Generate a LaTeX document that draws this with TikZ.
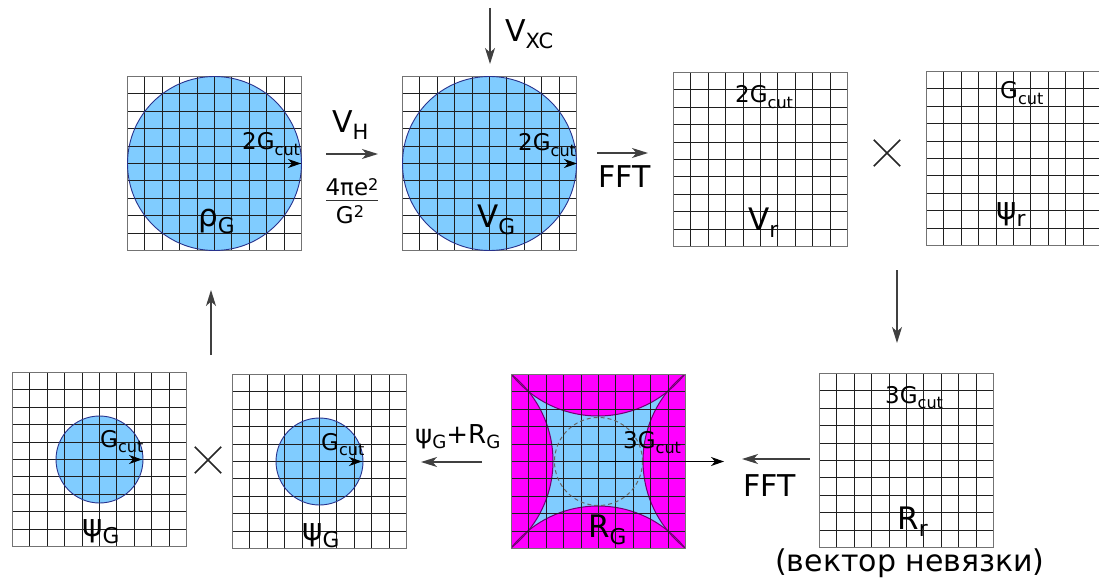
\documentclass[tikz,border=0pt]{standalone}
\usepackage{fontspec}
\setmainfont{DejaVu Sans}
\usetikzlibrary{arrows.meta}
\definecolor{lblue}{RGB}{128,204,255}
\definecolor{cedge}{RGB}{40,50,140}
\definecolor{mag}{RGB}{255,0,255}
\definecolor{arcc}{RGB}{110,0,110}
\newcommand\sbx[1]{\raisebox{-0.23em}{\scalebox{0.7}{#1}}}
\newcommand\spx[1]{\raisebox{0.24em}{\scalebox{0.7}{#1}}}
\newcommand\gridat[2]{%
  \foreach \i in {1,...,9}{%
    \pgfmathsetmacro\gx{round(#1+\i*17.4)+0.5}%
    \pgfmathsetmacro\gy{round(#2+\i*17.4)+0.5}%
    \draw[gl] (\gx,#2+0.5) -- (\gx,#2+174.5);
    \draw[gl] (#1+0.5,\gy) -- (#1+174.5,\gy);}
  \draw[gb] (#1+0.5,#2+0.5) rectangle (#1+174.5,#2+174.5);}
\tikzset{
  gl/.style={draw=black!88,line width=1.1pt},
  gb/.style={draw=black!55,line width=1.4pt},
  sq/.style={minimum size=174pt,inner sep=0pt},
  arr/.style={draw=black!75,line width=1.4pt,-{Stealth[length=16pt,width=10pt,inset=4.5pt]}},
  rad/.style={draw=black,line width=1.2pt,-{Stealth[length=13pt,width=9pt,inset=4pt]}},
  small/.style={inner sep=0pt,anchor=base west,font=\fontsize{23}{23}\selectfont},
  big/.style={inner sep=0pt,anchor=base west,font=\fontsize{31}{31}\selectfont},
  mid/.style={inner sep=0pt,anchor=base west,font=\fontsize{30}{30}\selectfont},
  frac/.style={inner sep=0pt,anchor=base,font=\fontsize{23}{23}\selectfont},
  times/.style={draw=black!85,line width=1.6pt}
}
\begin{document}
\begin{tikzpicture}[x=1pt,y=-1pt]
\useasboundingbox (0,0) rectangle (1099,588);
% ---------- squares (named)
\node[sq] (g1) at (214.5,163.5) {};
\node[sq] (g2) at (489.5,163.5) {};
\node[sq] (g3) at (760.5,159.5) {};
\node[sq] (g4) at (1013.5,158.5) {};
\node[sq] (g5) at (906.5,460.5) {};
\node[sq] (gm) at (598.5,461.5) {};
\node[sq] (b1) at (99.5,459.5) {};
\node[sq] (b2) at (319.5,461.5) {};
% ---------- top row
\fill[lblue] (g1.center) circle[radius=87pt];
\gridat{127}{76}
\draw[cedge,line width=0.9pt] (g1.center) circle[radius=87pt];
\coordinate (g1r) at (301,163.5);
\draw[rad] (g1.center) -- (g1r);
\node[small] (g1c) at (242,150) {2G\sbx{cut}};
\node[big] (g1l) at (198,226) {ρ\sbx{G}};

\fill[lblue] (g2.center) circle[radius=87pt];
\gridat{402}{76}
\draw[cedge,line width=0.9pt] (g2.center) circle[radius=87pt];
\coordinate (g2r) at (577,163.5);
\draw[rad] (g2.center) -- (g2r);
\node[small] (g2c) at (518,151) {2G\sbx{cut}};
\node[big] (g2l) at (477,227) {V\sbx{G}};

\gridat{673}{72}
\node[small] (g3c) at (735,103) {2G\sbx{cut}};
\node[big] (g3l) at (748,230) {V\sbx{r}};

\gridat{926}{71}
\node[small] (g4c) at (1000,99) {G\sbx{cut}};
\node[big] (g4l) at (996,219) {ψ\sbx{r}};

% V_XC
\coordinate (xc1) at (490,8);
\coordinate (xc2) at (490,64);
\draw[arr] (xc1) -- (xc2);
\node[mid] (vxc) at (505,42) {V\sbx{XC}};

% V_H
\coordinate (vh1) at (326,154);
\coordinate (vh2) at (378,154);
\draw[arr] (vh1) -- (vh2);
\node[mid] (vh) at (332,133) {V\sbx{H}};
\node[frac] (num) at (352,196) {4πe\spx{2}};
\coordinate (fr1) at (326,200);
\coordinate (fr2) at (378,200);
\draw[black!80,line width=1pt] (fr1) -- (fr2);
\node[frac] (den) at (350,223) {G\spx{2}};

% FFT top
\coordinate (f1) at (597,153);
\coordinate (f2) at (648,153);
\draw[arr] (f1) -- (f2);
\node[mid] (fft1) at (598,187) {FFT};

% times top
\node[inner sep=0pt,minimum size=26pt] (x1) at (887,153) {};
\draw[times] (x1.north west) -- (x1.south east);
\draw[times] (x1.south west) -- (x1.north east);

% down arrow
\coordinate (d1) at (897,270);
\coordinate (d2) at (897,343);
\draw[arr] (d1) -- (d2);

% ---------- bottom row
\gridat{819}{373}
\node[small] (g5c) at (885,403) {3G\sbx{cut}};
\node[big] (g5l) at (897,529) {R\sbx{r}};
\node[mid] (nev) at (775,571) {(вектор невязки)};

% FFT bottom
\coordinate (fb1) at (810,459);
\coordinate (fb2) at (742,459);
\draw[arr] (fb1) -- (fb2);
\node[mid] (fft2) at (743,496) {FFT};

% magenta square
\fill[mag] (511,374) rectangle (685,548);
\begin{scope}
  \clip (511,374) rectangle (685,548);
  \fill[lblue] (511,374) rectangle (685,548);
  \fill[mag] (598,305) circle[radius=111pt];
  \fill[mag] (598,617) circle[radius=111pt];
  \fill[mag] (442,461) circle[radius=111pt];
  \fill[mag] (754,461) circle[radius=111pt];
  \draw[arcc,line width=1pt] (598,305) circle[radius=111pt];
  \draw[arcc,line width=1pt] (598,617) circle[radius=111pt];
  \draw[arcc,line width=1pt] (442,461) circle[radius=111pt];
  \draw[arcc,line width=1pt] (754,461) circle[radius=111pt];
\end{scope}
\gridat{511}{374}
\draw[black!60,line width=1pt,dash pattern=on 4pt off 3pt] (gm.center) circle[radius=44pt];
\coordinate (gmr) at (724,461.5);
\draw[rad] (gm.center) -- (gmr);
\node[small] (gmc) at (623,448) {3G\sbx{cut}};
\node[big] (gml) at (588,537) {R\sbx{G}};

% psi+R arrow
\coordinate (pr1) at (482,462);
\coordinate (pr2) at (421,462);
\draw[arr] (pr1) -- (pr2);
\node[inner sep=0pt,anchor=base west,font=\fontsize{26}{26}\selectfont] (psr) at (415,443) {ψ\sbx{G}+R\sbx{G}};

% bottom grid 2
\fill[lblue] (b2.center) circle[radius=43.5pt];
\gridat{232}{374}
\draw[cedge,line width=0.9pt] (b2.center) circle[radius=43.5pt];
\coordinate (b2r) at (362,461.5);
\draw[rad] (b2.center) -- (b2r);
\node[small] (b2c) at (321,450) {G\sbx{cut}};
\node[big] (b2l) at (302,540) {ψ\sbx{G}};

% times bottom
\node[inner sep=0pt,minimum size=26pt] (x2) at (208,460) {};
\draw[times] (x2.north west) -- (x2.south east);
\draw[times] (x2.south west) -- (x2.north east);

% bottom grid 1
\fill[lblue] (b1.center) circle[radius=43.5pt];
\gridat{12}{372}
\draw[cedge,line width=0.9pt] (b1.center) circle[radius=43.5pt];
\coordinate (b1r) at (142,459.5);
\draw[rad] (b1.center) -- (b1r);
\node[small] (b1c) at (100,447) {G\sbx{cut}};
\node[big] (b1l) at (82,536) {ψ\sbx{G}};

% up arrow
\coordinate (u1) at (211,355);
\coordinate (u2) at (211,290);
\draw[arr] (u1) -- (u2);
\end{tikzpicture}
\end{document}
